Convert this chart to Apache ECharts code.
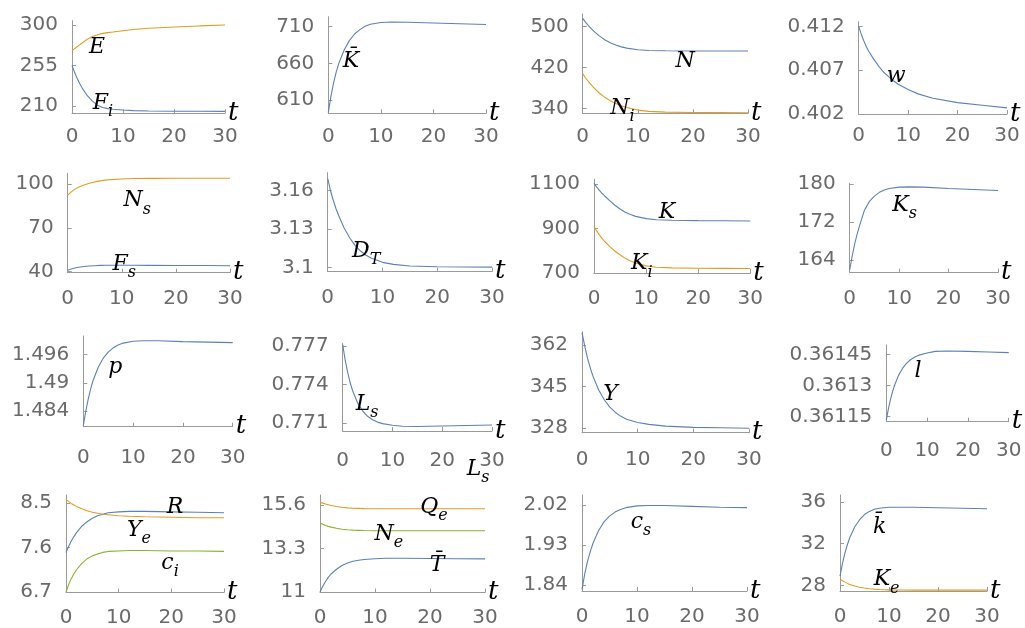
<!DOCTYPE html>
<html><head><meta charset="utf-8">
<script src="https://cdn.jsdelivr.net/npm/echarts@6/dist/echarts.min.js"></script>
<style>html,body{margin:0;padding:0;background:#fff}#c{width:1025px;height:628px}</style>
</head><body><div id="c"></div>
<script>
// ---- data ----
const T = [0,0.5,1,1.5,2,3,4,5,6,7,8,10,12,15,20,25,30];
const xTickLabels = ['0','10','20','30'];

const E    = [271.5,273.8,275.9,278,280,284.3,287.3,289.3,290.7,291.6,292.2,293.7,295.1,296.4,297.8,299,300];
const Fi   = [255.3,247.5,240.8,235,230,221.5,215.5,211,208.5,207.2,206.5,205.6,205,204.6,204.3,204.2,204.1];
const Kbar = [593,615,633,648,660,678,691,700,706,710.5,713.3,715.8,716.3,716,715,714,713];
const N    = [516.5,509,502.5,497,491.5,482,474.5,468.5,464,460.5,458,455,453.5,452.8,452.5,452.4,452.3];
const Ni   = [408,400,393,386.5,380.5,370,361.5,355,349.5,345,341.5,336.5,334,332.5,331.8,331.5,331.3];
const w    = [0.4120,0.41115,0.4104,0.40975,0.4092,0.4083,0.4075,0.4068,0.4063,0.4058,0.4054,0.4048,0.4043,0.4038,0.4033,0.4030,0.4027];
const Ns   = [92.4,94.2,95.7,96.9,97.9,99.4,100.6,101.5,102.2,102.7,103.1,103.5,103.8,103.9,104,104,104];
const Fs   = [41,41.7,42.2,42.7,43,43.5,43.9,44.1,44.3,44.4,44.4,44.4,44.4,44.3,44.2,44.2,44.1];
const DT   = [3.1695,3.160,3.1526,3.146,3.1405,3.1308,3.1232,3.1172,3.1128,3.1095,3.1072,3.1040,3.1024,3.1012,3.1006,3.1004,3.1003];
const K    = [1104,1088,1073,1060,1048,1026,1005,988,974,963,955,945,940,937.5,936,935,934];
const Ki   = [908,890,873,857,843,820,799,782,766,754,745,732,726,723,721.5,721,720.5];
const Ks   = [161.9,164.8,167.3,169.4,171.2,174.5,176.3,177.4,178.2,178.7,179.0,179.3,179.35,179.3,179.0,178.8,178.6];
const p    = [1.4809,1.4840,1.4866,1.4888,1.4906,1.4933,1.4952,1.4965,1.4974,1.4980,1.4984,1.4988,1.4989,1.4989,1.4987,1.4986,1.4985];
const Ls   = [0.7771,0.7759,0.77495,0.77414,0.77352,0.77257,0.77196,0.77154,0.77127,0.77109,0.77097,0.77084,0.77077,0.77075,0.77079,0.77083,0.77087];
const Y    = [367,361.5,356.5,352.5,349,343.5,339.5,336.5,334.3,332.7,331.5,330.2,329.4,328.7,328.2,328,327.8];
const l    = [0.361133,0.361186,0.361231,0.361268,0.361300,0.361349,0.361384,0.361408,0.361426,0.361438,0.361447,0.361457,0.361465,0.361467,0.361465,0.361462,0.361459];
const R    = [7.5,7.62,7.73,7.82,7.9,8.03,8.12,8.19,8.24,8.27,8.3,8.32,8.33,8.33,8.32,8.31,8.3];
const Ye   = [8.57,8.53,8.49,8.46,8.43,8.38,8.34,8.31,8.29,8.27,8.26,8.24,8.23,8.22,8.21,8.2,8.2];
const ci   = [6.7,6.85,6.97,7.07,7.15,7.28,7.37,7.43,7.47,7.5,7.52,7.53,7.54,7.54,7.53,7.53,7.52];
const Qe   = [15.75,15.7,15.65,15.61,15.57,15.52,15.48,15.45,15.43,15.42,15.41,15.4,15.4,15.4,15.4,15.4,15.4];
const Ne   = [14.65,14.58,14.52,14.47,14.43,14.37,14.32,14.29,14.27,14.26,14.25,14.24,14.24,14.24,14.24,14.24,14.24];
const Tbar = [11.0,11.3,11.55,11.77,11.95,12.2,12.4,12.53,12.62,12.68,12.72,12.76,12.78,12.78,12.77,12.76,12.75];
const cs   = [1.83,1.865,1.893,1.915,1.934,1.962,1.982,1.995,2.004,2.01,2.014,2.018,2.019,2.019,2.017,2.015,2.014];
const kbar = [28.9,30.1,31.1,31.9,32.6,33.6,34.3,34.8,35.1,35.3,35.4,35.5,35.5,35.5,35.45,35.4,35.35];
const Ke   = [28.6,28.45,28.32,28.2,28.1,27.95,27.83,27.75,27.69,27.65,27.62,27.58,27.56,27.55,27.55,27.55,27.55];

const yT = [
  ['210','255','300'], ['610','660','710'], ['340','420','500'], ['0.402','0.407','0.412'],
  ['40','70','100'], ['3.1','3.13','3.16'], ['700','900','1100'], ['164','172','180'],
  ['1.484','1.49','1.496'], ['0.771','0.774','0.777'], ['328','345','362'], ['0.36115','0.3613','0.36145'],
  ['6.7','7.6','8.5'], ['11','13.3','15.6'], ['1.84','1.93','2.02'], ['28','32','36']
];

// ---- layout / styling ----
const BL = '#5E81B5', OR = '#E19C24', GR = '#8FB032';
const panels = [
  {l:72,   t:20.7,  r:225,   b:113.3, min:202,     max:304.8,   xm:13},
  {l:328.3,t:16.7,  r:486,   b:113.3, min:592,     max:723.6,   xm:13},
  {l:582.7,t:14,    r:748,   b:113.3, min:330.2,   max:525,     xm:13},
  {l:858.7,t:21.7,  r:1007,  b:114,   min:0.402,   max:0.41255, xm:12},
  {l:67.7, t:173.3, r:230,   b:272.7, min:39.3,    max:107.4,   xm:16},
  {l:327.7,t:172.7, r:492,   b:271.7, min:3.0967,  max:3.1739,  xm:16},
  {l:594,  t:179.3, r:750.3, b:273,   min:700,     max:1122,    xm:16},
  {l:849.7,t:183.3, r:998,   b:272.7, min:161.3,   max:180.1,   xm:16},
  {l:83.3, t:336,   r:232.7, b:426.7, min:1.4807,  max:1.4999,  xm:21},
  {l:342.7,t:343.3, r:492,   b:431,   min:0.7704,  max:0.7772,  xm:20},
  {l:582,  t:331.7, r:749,   b:432.7, min:326,     max:367.4,   xm:17},
  {l:886.3,t:345,   r:1008.7,b:421.7, min:0.361125,max:0.361496,xm:19},
  {l:66,   t:495,   r:224,   b:592.5, min:6.69,    max:8.66,    xm:15},
  {l:320,  t:495,   r:485,   b:592.5, min:10.97,   max:16.13,   xm:15},
  {l:582,  t:495,   r:747,   b:591,   min:1.8265,  max:2.0425,  xm:16},
  {l:840,  t:495,   r:987,   b:591,   min:27.47,   max:36.67,   xm:16}
];

const curves = [
  {p:0, d:E,    c:OR, lab:['E','',[4.9,275.6]]},
  {p:0, d:Fi,   c:BL, lab:['F','i',[5.3,215.6]]},
  {p:1, d:Kbar, c:BL, lab:['K\u0304','',[4.3,662.3]]},
  {p:2, d:N,    c:BL, lab:['N','',[18.6,431.4]]},
  {p:2, d:Ni,   c:OR, lab:['N','i',[6.5,344.6]]},
  {p:3, d:w,    c:BL, lab:['w','',[7.6,0.40626]]},
  {p:4, d:Ns,   c:OR, lab:['N','s',[12.1,90.1]]},
  {p:4, d:Fs,   c:BL, lab:['F','s',[9.7,46.4]]},
  {p:5, d:DT,   c:BL, lab:['D','T',[6.3,3.1142]]},
  {p:6, d:K,    c:BL, lab:['K','',[14.0,972]]},
  {p:6, d:Ki,   c:OR, lab:['K','i',[8.4,751]]},
  {p:7, d:Ks,   c:BL, lab:['K','s',[10.3,175.9]]},
  {p:8, d:p,    c:BL, lab:['p','',[6.4,1.4932]]},
  {p:9, d:Ls,   c:BL, lab:['L','s',[4.1,0.77266]], extra:['L','s',[26.4,0.7704], 36]},
  {p:10,d:Y,    c:BL, lab:['Y','',[5.1,341.6]]},
  {p:11,d:l,    c:BL, lab:['l','',[7.8,0.361367]]},
  {p:12,d:R,    c:BL, lab:['R','',[20.7,8.42]]},
  {p:12,d:Ye,   c:OR, lab:['Y','e',[13.1,7.995]]},
  {p:12,d:ci,   c:GR, lab:['c','i',[19,7.33]]},
  {p:13,d:Qe,   c:OR, lab:['Q','e',[20,15.6]]},
  {p:13,d:Ne,   c:GR, lab:['N','e',[11.8,14.17]]},
  {p:13,d:Tbar, c:BL, lab:['T\u0304','',[21.3,12.43]]},
  {p:14,d:cs,   c:BL, lab:['c','s',[10,1.986]]},
  {p:15,d:kbar, c:BL, lab:['k\u0304','',[8.1,33.6]]},
  {p:15,d:Ke,   c:OR, lab:['K','e',[8.7,28.77]]}
];

const AX = '#9a9a9a', TXT = '#6a6a6a';
const rich = {
  m:{fontFamily:'DejaVu Serif', fontStyle:'italic', fontSize:22, lineHeight:28, verticalAlign:'top', color:'#000'},
  s:{fontFamily:'DejaVu Serif', fontStyle:'italic', fontSize:16, lineHeight:28, verticalAlign:'bottom', color:'#000'}
};
function mk(lb){
  const [main, sub, at, dy] = lb;
  return {coord: at, symbol:'rect', symbolSize:1, itemStyle:{color:'rgba(0,0,0,0)'},
    label:{show:true, position:'inside', color:'#000',
      formatter: sub ? '{m|' + main + '}{s|' + sub + '}' : '{m|' + main + '}',
      offset: sub ? [4, 5 + (dy || 0)] : [0, 3], rich: rich}};
}

const option = {
  animation:false,
  backgroundColor:'#fff',
  grid: panels.map(g => ({left:g.l, top:g.t, width:g.r-g.l, height:g.b-g.t})),
  xAxis: panels.map((g,i) => ({
    gridIndex:i, type:'value', min:0, max:30,
    name:'t', nameLocation:'end', nameGap:3, nameMoveOverlap:false,
    nameTextStyle:{fontFamily:'DejaVu Serif', fontStyle:'italic', fontSize:26, color:'#000', verticalAlign:'middle'},
    axisLine:{show:true, onZero:false, lineStyle:{color:AX, width:1}},
    axisTick:{show:true, inside:true, length:4, lineStyle:{color:AX}, customValues: xTickLabels.map(Number)},
    axisLabel:{show:true, margin:g.xm, color:TXT, fontFamily:'DejaVu Sans', fontSize:20,
      customValues: xTickLabels.map(Number), formatter: v => String(v)},
    splitLine:{show:false}
  })),
  yAxis: panels.map((g,i) => ({
    gridIndex:i, type:'value', min:g.min, max:g.max,
    axisLine:{show:true, onZero:false, lineStyle:{color:AX, width:1}},
    axisTick:{show:true, inside:true, length:4, lineStyle:{color:AX}, customValues: yT[i].map(Number)},
    axisLabel:{show:true, margin:14, color:TXT, fontFamily:'DejaVu Sans', fontSize:20,
      customValues: yT[i].map(Number),
      formatter: v => { const s = yT[i].find(x => Math.abs(Number(x)-v) < 1e-9); return s !== undefined ? s : String(v); }},
    splitLine:{show:false}
  })),
  series: curves.map(cv => ({
    type:'line', xAxisIndex:cv.p, yAxisIndex:cv.p,
    data: T.map((tt,k) => [tt, cv.d[k]]),
    showSymbol:false, smooth:false,
    lineStyle:{color:cv.c, width:1.1}, itemStyle:{color:cv.c},
    silent:true,
    markPoint:{silent:true, animation:false,
      data: cv.extra ? [mk(cv.lab), mk(cv.extra)] : [mk(cv.lab)]}
  }))
};

const chart = echarts.init(document.getElementById('c'), null, {renderer:'canvas'});
chart.setOption(option);
</script></body></html>
